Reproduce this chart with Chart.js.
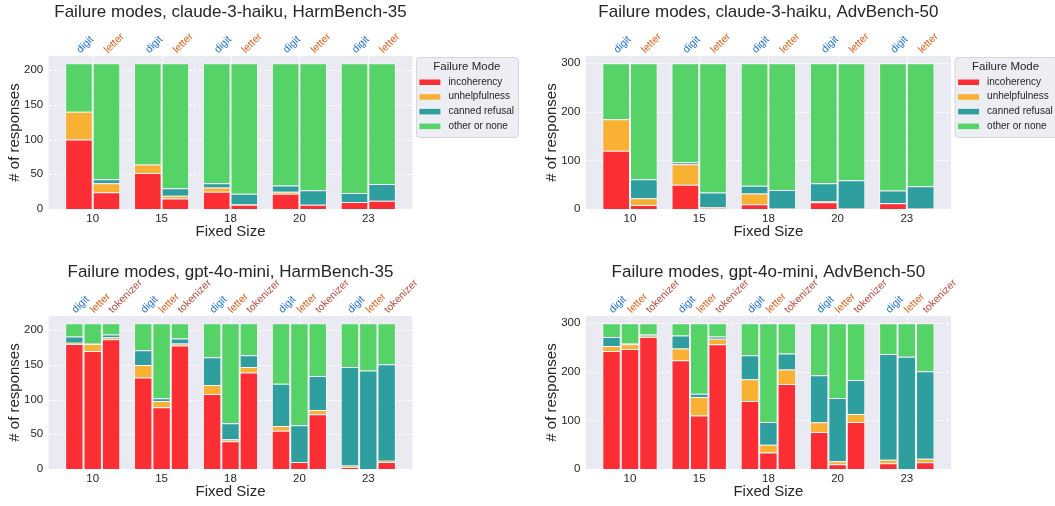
<!DOCTYPE html>
<html>
<head>
<meta charset="utf-8">
<script src="https://cdn.jsdelivr.net/npm/chart.js"></script>
<style>
  body { margin: 0; background: #fff; overflow: hidden; }
  .panel { position: absolute; }
  canvas { display: block; }
</style>
</head>
<body>
<div class="panel" style="left:0;top:0"><canvas id="haikuHarm" width="530" height="260"></canvas></div>
<div class="panel" style="left:530px;top:0"><canvas id="haikuAdv" width="525" height="260"></canvas></div>
<div class="panel" style="left:0;top:260px"><canvas id="gptHarm" width="530" height="260"></canvas></div>
<div class="panel" style="left:530px;top:260px"><canvas id="gptAdv" width="525" height="260"></canvas></div>
<script>
const sizes = ['10', '15', '18', '20', '23'];
const failureModes = ['incoherency', 'unhelpfulness', 'canned refusal', 'other or none'];
const modeColors = ['#fb2e33', '#f8b133', '#2e9e9e', '#55d366'];
const methodColors = { digit: '#1c6fd6', letter: '#e0621c', tokenizer: '#b94c3c' };

// rows: incoherency, unhelpfulness, canned refusal, other or none (one value per fixed size)
const haikuHarmDigit = [[100, 52, 25, 22, 10], [40, 12, 6, 3, 0], [0, 0, 6, 9, 13], [70, 146, 173, 176, 187]];
const haikuHarmLetter = [[24, 15, 6, 6, 12], [13, 4, 1, 0, 0], [6, 11, 15, 21, 24], [167, 180, 188, 183, 174]];

const haikuAdvDigit = [[120, 50, 10, 14, 12], [65, 42, 22, 2, 0], [0, 4, 16, 37, 26], [115, 204, 252, 247, 262]];
const haikuAdvLetter = [[8, 1, 1, 1, 1], [14, 3, 0, 0, 0], [39, 30, 38, 58, 46], [239, 266, 261, 241, 253]];

const gptHarmDigit = [[180, 132, 108, 55, 3], [2, 18, 13, 7, 2], [9, 21, 40, 61, 142], [19, 39, 49, 87, 63]];
const gptHarmLetter = [[170, 89, 40, 10, 0], [10, 9, 3, 0, 0], [1, 4, 23, 53, 142], [29, 108, 144, 147, 68]];
const gptHarmTokenizer = [[187, 178, 139, 79, 10], [3, 3, 8, 6, 2], [4, 7, 17, 49, 139], [16, 22, 46, 76, 59]];

const gptAdvDigit = [[243, 224, 140, 76, 12], [10, 24, 45, 20, 7], [19, 27, 49, 97, 218], [28, 25, 66, 107, 63]];
const gptAdvLetter = [[247, 110, 34, 10, 0], [10, 38, 16, 6, 0], [2, 7, 47, 130, 231], [41, 145, 203, 154, 69]];
const gptAdvTokenizer = [[272, 257, 175, 97, 14], [3, 11, 30, 16, 7], [2, 5, 33, 70, 180], [23, 27, 62, 117, 99]];

const harmTicks = [0, 50, 100, 150, 200];
const advTicks = [0, 100, 200, 300];

const FONT = '"Liberation Sans", Arial, sans-serif';
const TEXT = '#262626';

const panelDecor = {
  id: 'panelDecor',
  beforeDatasetsDraw(chart) {
    const { ctx, chartArea: a, scales: { x, y } } = chart;
    const ext = 0.14 * a.width / sizes.length;
    ctx.save();
    ctx.fillStyle = '#eaeaf2';
    ctx.fillRect(a.left - ext, a.top, a.width + 2 * ext, a.height);
    ctx.strokeStyle = '#ffffff';
    ctx.lineWidth = 1;
    ctx.setLineDash([3, 2]);
    ctx.beginPath();
    y.ticks.forEach(t => {
      const py = Math.round(y.getPixelForValue(t.value)) + 0.5;
      ctx.moveTo(a.left - ext, py);
      ctx.lineTo(a.right + ext, py);
    });
    sizes.forEach((s, i) => {
      const px = Math.round(x.getPixelForValue(i)) + 0.5;
      ctx.moveTo(px, a.top);
      ctx.lineTo(px, a.bottom);
    });
    ctx.stroke();
    ctx.restore();
  },
  afterDatasetsDraw(chart) {
    const { ctx, chartArea: a } = chart;
    ctx.save();
    ctx.font = '10.5px ' + FONT;
    ctx.textAlign = 'left';
    ctx.textBaseline = 'alphabetic';
    chart.data.datasets.forEach((ds, di) => {
      if (ds.mode !== 0) return;
      ctx.fillStyle = methodColors[ds.method];
      chart.getDatasetMeta(di).data.forEach(bar => {
        ctx.save();
        ctx.translate(bar.x + 1.5, a.top - 2.5);
        ctx.rotate(-Math.PI / 4);
        ctx.fillText(ds.method, 0, 0);
        ctx.restore();
      });
    });
    ctx.restore();
  },
  afterDraw(chart, args, opts) {
    const { ctx, chartArea: a } = chart;
    const ext = 0.14 * a.width / sizes.length;
    ctx.save();
    ctx.fillStyle = TEXT;
    ctx.font = '17px ' + FONT;
    ctx.textAlign = 'center';
    ctx.textBaseline = 'middle';
    ctx.fillText(opts.title, (a.left + a.right) / 2, 12);

    if (opts.legend) {
      const lx = a.right + ext + 3.5, ly = a.top + 1, lw = 102, lh = 80;
      ctx.beginPath();
      ctx.roundRect(lx + 0.5, ly + 0.5, lw, lh, 3);
      ctx.fillStyle = 'rgba(234,234,242,0.85)';
      ctx.fill();
      ctx.strokeStyle = '#d4d4dc';
      ctx.lineWidth = 1;
      ctx.stroke();
      ctx.fillStyle = TEXT;
      ctx.font = '11.5px ' + FONT;
      ctx.fillText('Failure Mode', lx + lw / 2, ly + 9.5);
      ctx.font = '10px ' + FONT;
      ctx.textAlign = 'left';
      failureModes.forEach((m, i) => {
        const ry = ly + 25 + i * 14.7;
        ctx.fillStyle = modeColors[i];
        ctx.fillRect(lx + 3.5, ry - 2.5, 21, 5.5);
        ctx.fillStyle = TEXT;
        ctx.fillText(m, lx + 32.5, ry);
      });
    }
    ctx.restore();
  }
};

function makePanel(id, title, methods, yTicks, yMax, areaLeft, areaRight, yTitlePad, legend) {
  const canvas = document.getElementById(id);
  const datasets = [];
  methods.forEach(([name, rows]) => {
    rows.forEach((vals, m) => {
      datasets.push({
        label: failureModes[m],
        method: name,
        mode: m,
        stack: name,
        data: vals,
        backgroundColor: modeColors[m],
        borderColor: 'rgba(255,255,255,0.55)',
        borderWidth: c => (c.raw ? 1 : 0)
      });
    });
  });

  return new Chart(canvas, {
    type: 'bar',
    data: { labels: sizes, datasets },
    options: {
      responsive: false,
      animation: false,
      layout: { padding: { left: 0, right: canvas.width - areaRight, top: 56, bottom: 19 } },
      datasets: { bar: { barPercentage: 1, categoryPercentage: 0.8 } },
      plugins: {
        legend: { display: false },
        tooltip: { enabled: false },
        panelDecor: { title, legend }
      },
      scales: {
        x: {
          stacked: true,
          grid: { display: false, drawTicks: false },
          border: { display: false },
          ticks: { color: TEXT, font: { size: 11.5, family: FONT }, padding: 3 },
          title: { display: true, text: 'Fixed Size', color: TEXT, font: { size: 15, family: FONT }, padding: 0 },
          afterFit: s => { s.height = 32; }
        },
        y: {
          stacked: true,
          min: 0,
          max: yMax,
          grid: { display: false, drawTicks: false },
          border: { display: false },
          afterBuildTicks: s => { s.ticks = yTicks.map(v => ({ value: v })); },
          ticks: { color: TEXT, font: { size: 11.5, family: FONT }, padding: 15 },
          title: { display: true, text: '# of responses', color: TEXT, font: { size: 15, family: FONT }, padding: { top: yTitlePad, bottom: 0 } },
          afterFit: s => { s.width = areaLeft; }
        }
      }
    },
    plugins: [panelDecor]
  });
}

makePanel('haikuHarm', 'Failure modes, claude-3-haiku, HarmBench-35',
  [['digit', haikuHarmDigit], ['letter', haikuHarmLetter]], harmTicks, 220.5, 58.25, 402.75, 6, true);
makePanel('haikuAdv', 'Failure modes, claude-3-haiku, AdvBench-50',
  [['digit', haikuAdvDigit], ['letter', haikuAdvLetter]], advTicks, 315, 65.4, 411.4, 12.7, true);
makePanel('gptHarm', 'Failure modes, gpt-4o-mini, HarmBench-35',
  [['digit', gptHarmDigit], ['letter', gptHarmLetter], ['tokenizer', gptHarmTokenizer]], harmTicks, 220.5, 58.25, 402.75, 6, false);
makePanel('gptAdv', 'Failure modes, gpt-4o-mini, AdvBench-50',
  [['digit', gptAdvDigit], ['letter', gptAdvLetter], ['tokenizer', gptAdvTokenizer]], advTicks, 315, 65.4, 411.4, 12.7, false);
</script>
</body>
</html>
